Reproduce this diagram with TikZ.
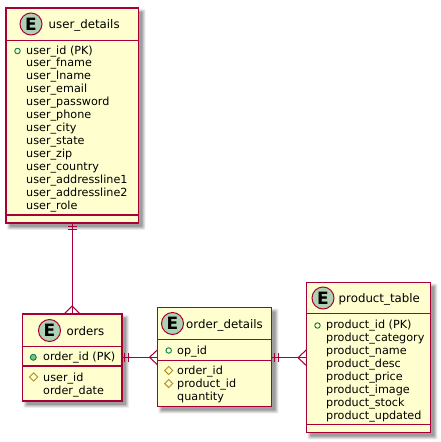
\documentclass[tikz,border=0pt]{standalone}
\usepackage{fontspec}
\setmainfont{DejaVu Sans}
\definecolor{erline}{HTML}{A80036}
\definecolor{erfill}{HTML}{FEFECE}
\definecolor{ergreen}{HTML}{ADD1B2}
\definecolor{pkgreen}{HTML}{038048}
\definecolor{pkfill}{HTML}{84BE84}
\definecolor{fkgold}{HTML}{B38D22}
\newcommand{\shadowfor}[1]{%
  \foreach \g/\op in {3.2/.05,2.4/.07,1.6/.09,0.8/.11,0/.12}{
    \fill[black,opacity=\op,rounded corners=1pt]
      ([shift={(4-\g,4+\g)}]#1.south west) rectangle ([shift={(4+\g,4-\g)}]#1.north east);
    }}
\newcommand{\rows}[4]{% x, first y, step, list
  \foreach \t [count=\i from 0] in {#4}{
    \node[rowtext] (#1-\i) at (#2,{#3+12.95*\i}) {\t};
  }}
\tikzset{
  x=1pt,y=-1pt,
  entity/.style={draw=erline,fill=erfill,line width=1.3pt,inner sep=0pt,anchor=north west},
  sep/.style={draw=erline,line width=1.1pt},
  conn/.style={draw=erline,line width=1.05pt},
  rowtext/.style={anchor=base west,inner sep=0pt,font=\fontsize{11.2}{13}\selectfont,text=black},
  titletext/.style={anchor=base west,inner sep=0pt,font=\fontsize{11.8}{16}\selectfont,text=black},
  badge/.style={circle,draw=erline,fill=ergreen,line width=1pt,minimum size=22pt,inner sep=0pt,font=\fontsize{17}{17}\selectfont\bfseries,text=black},
  pkopen/.style={circle,draw=pkgreen,line width=.9pt,minimum size=5.5pt,inner sep=0pt},
  pkfull/.style={circle,draw=pkgreen,fill=pkfill,line width=.9pt,minimum size=6pt,inner sep=0pt},
  fkmark/.style={diamond,draw=fkgold,line width=.9pt,minimum size=8.5pt,inner sep=0pt},
}
\usetikzlibrary{shapes.geometric,calc}
\begin{document}
\begin{tikzpicture}
\useasboundingbox (0,0) rectangle (440,442);
\fill[white] (0,0) rectangle (440,442);

% geometry anchors for shadows
\node[minimum width=132pt,minimum height=214.5pt,inner sep=0pt,anchor=north west] (ud) at (6,8) {};
\node[minimum width=99pt,minimum height=86.5pt,inner sep=0pt,anchor=north west] (or) at (22.5,314) {};
\node[minimum width=113.5pt,minimum height=98.5pt,inner sep=0pt,anchor=north west] (od) at (157.5,307.5) {};
\node[minimum width=123.5pt,minimum height=149.5pt,inner sep=0pt,anchor=north west] (pt) at (306.5,282.5) {};
\shadowfor{ud}\shadowfor{or}\shadowfor{od}\shadowfor{pt}

% connectors
\coordinate (c1) at ($(or.north)+(0,-8)$);
\draw[conn] (ud.south) -- (or.north);
\draw[conn] (c1) -- ($(or.north)+(-8,0)$);
\draw[conn] (c1) -- ($(or.north)+(8,0)$);
\draw[conn] ($(ud.south)+(-4.5,3.5)$) -- ($(ud.south)+(4.5,3.5)$);
\draw[conn] ($(ud.south)+(-4.5,6.5)$) -- ($(ud.south)+(4.5,6.5)$);

\coordinate (c2a) at (or.east |- 0,357.3);
\coordinate (c2b) at (od.west |- 0,357.3);
\draw[conn] (c2a) -- (c2b);
\draw[conn] ($(c2b)+(-8,0)$) -- ($(c2b)+(0,-7.5)$);
\draw[conn] ($(c2b)+(-8,0)$) -- ($(c2b)+(0,7.5)$);
\draw[conn] ($(c2a)+(2.8,-4.5)$) -- ($(c2a)+(2.8,4.5)$);
\draw[conn] ($(c2a)+(6.6,-4.5)$) -- ($(c2a)+(6.6,4.5)$);

\coordinate (c3a) at (od.east |- 0,357.7);
\coordinate (c3b) at (pt.west |- 0,357.7);
\draw[conn] (c3a) -- (c3b);
\draw[conn] ($(c3b)+(-8.5,0)$) -- ($(c3b)+(0,-8)$);
\draw[conn] ($(c3b)+(-8.5,0)$) -- ($(c3b)+(0,8)$);
\draw[conn] ($(c3a)+(3,-4.5)$) -- ($(c3a)+(3,4.5)$);
\draw[conn] ($(c3a)+(7,-4.5)$) -- ($(c3a)+(7,4.5)$);

% entity boxes
\draw[entity] (ud.north west) rectangle (ud.south east);
\draw[sep] (6,40.5) -- (138,40.5);
\draw[sep] (6,215) -- (138,215);
\node[badge] (b1) at (31,24) {E};
\node[titletext] (t1) at (48.5,28.5) {user\_details};
\node[pkopen] (m1) at (17.5,51) {};
\rows{u}{26}{54}{user\_id (PK),user\_fname,user\_lname,user\_email,user\_password,user\_phone,user\_city,user\_state,user\_zip,user\_country,user\_addressline1,user\_addressline2,user\_role}

\draw[entity] (or.north west) rectangle (or.south east);
\draw[sep] (22.5,346.3) -- (121.5,346.3);
\draw[sep] (22.5,366) -- (121.5,366);
\node[badge] (b2) at (49.5,330.5) {E};
\node[titletext] (t2) at (66.5,335) {orders};
\node[pkfull] (m2) at (33.3,357.3) {};
\node[rowtext] (o1) at (43,360.5) {order\_id (PK)};
\node[fkmark] (m3) at (33.6,377) {};
\node[rowtext] (o2) at (43,381) {user\_id};
\node[rowtext] (o3) at (43,394) {order\_date};

\draw[entity] (od.north west) rectangle (od.south east);
\draw[sep] (157.5,339.7) -- (271,339.7);
\draw[sep] (157.5,360.3) -- (271,360.3);
\node[badge] (b3) at (172.5,323.5) {E};
\node[titletext] (t3) at (186,328.5) {order\_details};
\node[pkopen] (m4) at (168.7,350.5) {};
\node[rowtext] (d1) at (177,354) {op\_id};
\node[fkmark] (m5) at (168.7,370.5) {};
\node[fkmark] (m6) at (168.7,383.5) {};
\node[rowtext] (d2) at (177,374.5) {order\_id};
\node[rowtext] (d3) at (177,387.5) {product\_id};
\node[rowtext] (d4) at (177,400.5) {quantity};

\draw[entity] (pt.north west) rectangle (pt.south east);
\draw[sep] (306.5,313.7) -- (430,313.7);
\draw[sep] (306.5,424.3) -- (430,424.3);
\node[badge] (b4) at (323,298) {E};
\node[titletext] (t4) at (338.5,302.5) {product\_table};
\node[pkopen] (m7) at (317.5,325.5) {};
\rows{p}{326}{328.5}{product\_id (PK),product\_category,product\_name,product\_desc,product\_price,product\_image,product\_stock,product\_updated}
\end{tikzpicture}
\end{document}
